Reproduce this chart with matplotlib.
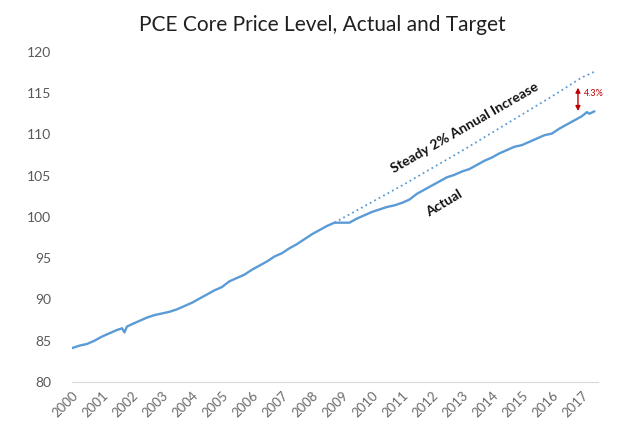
import matplotlib
matplotlib.use("Agg")
import matplotlib.pyplot as plt

# PCE core price level (index)
actual_t = [2000.00, 2000.25, 2000.50, 2000.75, 2001.00, 2001.25, 2001.50, 2001.67, 2001.75, 2001.83,
            2002.00, 2002.25, 2002.50, 2002.75, 2003.00, 2003.25, 2003.50, 2003.75,
            2004.00, 2004.25, 2004.50, 2004.75, 2005.00, 2005.25, 2005.50, 2005.75,
            2006.00, 2006.25, 2006.50, 2006.75, 2007.00, 2007.25, 2007.50, 2007.75,
            2008.00, 2008.25, 2008.50, 2008.75, 2009.00, 2009.25, 2009.50, 2009.75,
            2010.00, 2010.25, 2010.50, 2010.75, 2011.00, 2011.25, 2011.50, 2011.75,
            2012.00, 2012.25, 2012.50, 2012.75, 2013.00, 2013.25, 2013.50, 2013.75,
            2014.00, 2014.25, 2014.50, 2014.75, 2015.00, 2015.25, 2015.50, 2015.75,
            2016.00, 2016.25, 2016.50, 2016.75, 2017.00, 2017.17, 2017.25, 2017.42]
actual_v = [84.1, 84.4, 84.6, 85.0, 85.5, 85.9, 86.3, 86.5, 86.0, 86.7,
            87.0, 87.4, 87.8, 88.1, 88.3, 88.5, 88.8, 89.2,
            89.6, 90.1, 90.6, 91.1, 91.5, 92.2, 92.6, 93.0,
            93.6, 94.1, 94.6, 95.2, 95.6, 96.2, 96.7, 97.3,
            97.9, 98.4, 98.9, 99.3, 99.3, 99.3, 99.8, 100.2,
            100.6, 100.9, 101.2, 101.4, 101.7, 102.1, 102.8, 103.3,
            103.8, 104.3, 104.8, 105.1, 105.5, 105.8, 106.3, 106.8,
            107.2, 107.7, 108.1, 108.5, 108.7, 109.1, 109.5, 109.9,
            110.1, 110.7, 111.2, 111.7, 112.2, 112.7, 112.5, 112.8]

# steady 2% path from late 2008
target_t = [2008.75, 2010.0, 2011.0, 2012.0, 2013.0, 2014.0, 2015.0, 2016.0, 2017.0, 2017.42]
target_v = [99.3, 101.8, 103.8, 105.9, 108.0, 110.2, 112.4, 114.6, 116.9, 117.6]

years = list(range(2000, 2018))

plt.rcParams['font.family'] = ['Lato', 'DejaVu Sans']
blue = '#5B9BD5'
grey = '#595959'
red = '#C00000'

fig = plt.figure(figsize=(6.4, 4.36), dpi=100)
ax = fig.add_axes([0.1125, 0.124, 0.8215, 0.757])

ax.plot(actual_t, actual_v, color=blue, lw=1.7, solid_capstyle='round')
ax.plot(target_t, target_v, color=blue, lw=1.3, ls=(0, (1, 1.8)))

ax.set_xlim(2000, 2017.53)
ax.set_ylim(80, 120)
ax.set_yticks(range(80, 121, 5))
ax.set_xticks(years)
ax.set_xticklabels([str(y) for y in years], rotation=45, ha='right', va='top',
                   rotation_mode='anchor', fontsize=9.5, color='#6a6a6a')
ax.tick_params(axis='y', length=0, labelsize=10, labelcolor=grey, pad=15)
ax.tick_params(axis='x', length=0, pad=5)
for s in ['left', 'right', 'top']:
    ax.spines[s].set_visible(False)
ax.spines['bottom'].set_color('#d9d9d9')

fig.text(0.503, 0.943, "PCE Core Price Level, Actual and Target", ha='center', va='center',
         fontsize=15, color='#202020')

ax.text(2013.1, 110.8, "Steady 2% Annual Increase", rotation=30, ha='center', va='center',
        fontsize=10, fontweight='bold', color='#111111')
ax.text(2012.4, 101.6, "Actual", rotation=31, ha='center', va='center',
        fontsize=10, fontweight='bold', color='#111111')

ax.annotate('', xy=(2016.87, 116.0), xytext=(2016.87, 112.5),
            arrowprops=dict(arrowstyle='<|-|>', color=red, lw=1, mutation_scale=7))
ax.text(2017.08, 114.9, "4.3%", ha='left', va='center', fontsize=6.5, color=red)

fig.savefig("out.png", dpi=100)
